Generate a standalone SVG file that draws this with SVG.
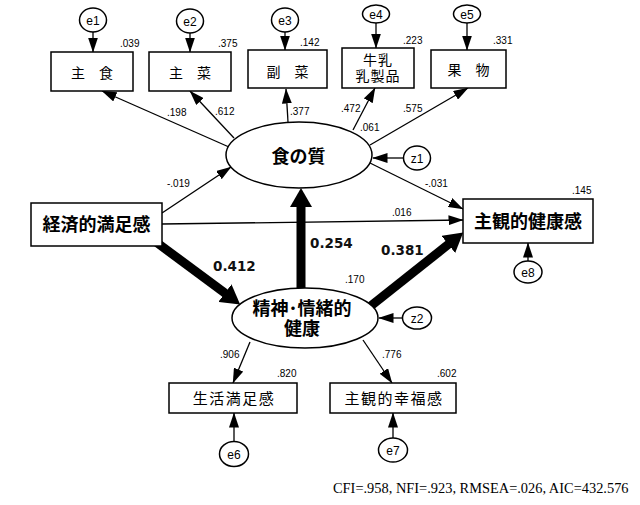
<svg xmlns="http://www.w3.org/2000/svg" width="640" height="505" viewBox="0 0 640 505">
<style>
.bx{fill:#fff;stroke:#000;stroke-width:1.5}
.ov{fill:#fff;stroke:#000;stroke-width:1.5}
.ln{fill:none;stroke:#000;stroke-width:1.3;marker-end:url(#ah)}
.tk{fill:none;stroke:#000;stroke-width:9;marker-end:url(#th)}
.nm{font-family:"Liberation Sans",Arial,sans-serif;font-size:10px;fill:#000}
.el{font-family:"Liberation Sans",Arial,sans-serif;font-size:12px;fill:#000;text-anchor:middle}
.jp{font-family:"Noto Sans CJK JP","Noto Sans CJK SC",sans-serif;font-size:14px;fill:#000;text-anchor:middle}
.jb{font-family:"Noto Sans CJK JP","Noto Sans CJK SC",sans-serif;font-size:18px;font-weight:bold;fill:#000;text-anchor:middle}
.bn{font-family:"DejaVu Sans",Verdana,sans-serif;font-size:13.5px;font-weight:bold;fill:#111}
.ft{font-family:"Liberation Serif","Times New Roman",serif;font-size:14.4px;fill:#000}
</style>
<defs>
<marker id="ah" markerUnits="userSpaceOnUse" markerWidth="15" markerHeight="10" refX="14.5" refY="5" orient="auto" viewBox="0 0 15 10"><path d="M0,0 L15,5 L0,10 z" fill="#000"/></marker>
<marker id="th" markerUnits="userSpaceOnUse" markerWidth="19" markerHeight="22" refX="1" refY="11" orient="auto" viewBox="0 0 19 22"><path d="M0,0 L19,11 L0,22 z" fill="#000"/></marker>
</defs>
<g id="connectors">
<path class="ln" d="M93,32 L93,52"/>
<path class="ln" d="M190,33 L190,52"/>
<path class="ln" d="M285,32 L285,50"/>
<path class="ln" d="M376,23 L376,48"/>
<path class="ln" d="M467,23 L467,50"/>
<path class="ln" d="M229,147 L102,91"/>
<path class="ln" d="M234,138 L190,91"/>
<path class="ln" d="M288,122 L286,89"/>
<path class="ln" d="M353,130 L375,88"/>
<path class="ln" d="M370,145 L468,88"/>
<path class="ln" d="M404,158 L373,158"/>
<path class="ln" d="M162,213 L231,167"/>
<path class="ln" d="M162,224 L463,220"/>
<path class="ln" d="M370,163 L463,209"/>
<path class="ln" d="M402,318 L379,318"/>
<path class="ln" d="M250,342 L233,383"/>
<path class="ln" d="M363,340 L392,383"/>
<path class="ln" d="M234,442 L234,413"/>
<path class="ln" d="M393,438 L393,413"/>
<path class="ln" d="M528,261 L528,243"/>
<path class="tk" d="M152,239 L225.7,293.7"/>
<path class="tk" d="M301,292 L301,206"/>
<path class="tk" d="M366,309.8 L449.1,243.8"/>
</g>
<g id="e1"><ellipse class="ov" cx="93" cy="20" rx="13.5" ry="12"/><text class="el" x="93" y="24.5">e1</text></g>
<g id="e2"><ellipse class="ov" cx="190" cy="21" rx="13.5" ry="12"/><text class="el" x="190" y="25.5">e2</text></g>
<g id="e3"><ellipse class="ov" cx="285" cy="20" rx="13.5" ry="12"/><text class="el" x="285" y="24.5">e3</text></g>
<g id="e4"><ellipse class="ov" cx="376" cy="14" rx="13.5" ry="9"/><text class="el" x="376" y="18.5">e4</text></g>
<g id="e5"><ellipse class="ov" cx="467" cy="14" rx="13.5" ry="9"/><text class="el" x="467" y="18.5">e5</text></g>
<g id="shushoku"><rect class="bx" x="51" y="52" width="82" height="39"/><text class="jp" x="92" y="78">主　食</text></g>
<g id="shusai"><rect class="bx" x="149" y="52" width="82" height="39"/><text class="jp" x="190" y="78">主　菜</text></g>
<g id="fukusai"><rect class="bx" x="248" y="50" width="79" height="38"/><text class="jp" x="287.5" y="77">副　菜</text></g>
<g id="gyunyu"><rect class="bx" x="342" y="48" width="72" height="40"/><text class="jp" letter-spacing="1"><tspan x="378" y="65">牛乳</tspan><tspan x="378" y="81">乳製品</tspan></text></g>
<g id="kudamono"><rect class="bx" x="431" y="50" width="75" height="38"/><text class="jp" x="468.5" y="75">果　物</text></g>
<g id="shoku"><ellipse class="ov" cx="299" cy="155" rx="73" ry="33"/><text class="jb" x="298.5" y="163">食の質</text></g>
<g id="z1"><ellipse class="ov" cx="417" cy="158" rx="13.5" ry="12"/><text class="el" x="417" y="162.5">z1</text></g>
<g id="keizai"><rect class="bx" x="31" y="203" width="131" height="43"/><text class="jb" x="96.5" y="231">経済的満足感</text></g>
<g id="kenkokan"><rect class="bx" x="463" y="199" width="130" height="44"/><text class="jb" x="528" y="228">主観的健康感</text></g>
<g id="e8"><ellipse class="ov" cx="528" cy="272" rx="14" ry="11"/><text class="el" x="528" y="276.5">e8</text></g>
<g id="seishin"><ellipse class="ov" cx="305" cy="318" rx="73" ry="30"/><text class="jb"><tspan x="302" y="315">精神･情緒的</tspan><tspan x="302" y="335">健康</tspan></text></g>
<g id="z2"><ellipse class="ov" cx="417" cy="318" rx="14.5" ry="11"/><text class="el" x="417" y="322.5">z2</text></g>
<g id="seikatsu"><rect class="bx" x="169" y="383" width="128" height="30"/><text class="jp" x="234" y="403.5" style="font-size:15px" letter-spacing="1.5">生活満足感</text></g>
<g id="kofuku"><rect class="bx" x="330" y="383" width="126" height="30"/><text class="jp" x="394" y="403.5" style="font-size:15px" letter-spacing="1.5">主観的幸福感</text></g>
<g id="e6"><ellipse class="ov" cx="234" cy="454" rx="14.5" ry="12.5"/><text class="el" x="234" y="458.5">e6</text></g>
<g id="e7"><ellipse class="ov" cx="393" cy="450" rx="14.5" ry="12"/><text class="el" x="393" y="454.5">e7</text></g>
<g id="labels">
<text class="nm" x="120" y="47">.039</text>
<text class="nm" x="218" y="47">.375</text>
<text class="nm" x="300" y="46">.142</text>
<text class="nm" x="403" y="44">.223</text>
<text class="nm" x="493" y="44">.331</text>
<text class="nm" x="167" y="116">.198</text>
<text class="nm" x="215" y="115">.612</text>
<text class="nm" x="290" y="115">.377</text>
<text class="nm" x="341" y="112">.472</text>
<text class="nm" x="403" y="112">.575</text>
<text class="nm" x="360" y="131">.061</text>
<text class="nm" x="167" y="187">-.019</text>
<text class="nm" x="392" y="216">.016</text>
<text class="nm" x="425" y="187">-.031</text>
<text class="nm" x="572" y="194">.145</text>
<text class="nm" x="345" y="283">.170</text>
<text class="nm" x="220" y="358">.906</text>
<text class="nm" x="382" y="358">.776</text>
<text class="nm" x="277" y="377">.820</text>
<text class="nm" x="437" y="377">.602</text>
<text class="bn" x="213" y="271">0.412</text>
<text class="bn" x="310" y="248">0.254</text>
<text class="bn" x="381" y="255">0.381</text>
<text class="ft" x="333" y="493">CFI=.958, NFI=.923, RMSEA=.026, AIC=432.576</text>
</g>
</svg>
